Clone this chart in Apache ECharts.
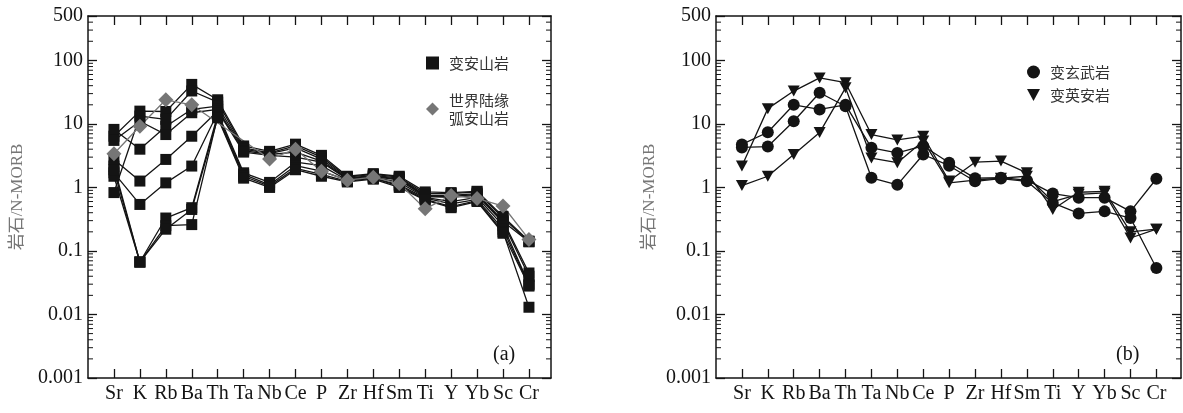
<!DOCTYPE html>
<html>
<head>
<meta charset="utf-8">
<script src="https://cdn.jsdelivr.net/npm/echarts@6/dist/echarts.min.js"></script>
<style>
  html, body { margin: 0; padding: 0; background: #fff; }
  #chart { width: 1183px; height: 413px; }
</style>
</head>
<body>
<div id="chart"></div>
<script>
// 元素顺序 (N-MORB 标准化蛛网图)
const elements = ['Sr', 'K', 'Rb', 'Ba', 'Th', 'Ta', 'Nb', 'Ce', 'P', 'Zr', 'Hf', 'Sm', 'Ti', 'Y', 'Yb', 'Sc', 'Cr'];
const yTickLabels = ['0.001', '0.01', '0.1', '1', '10', '100', '500'];

// (a) 变安山岩
const andesite1 = [6.4, 15.9, 15.7, 41.9, 24, 4.5, 3.7, 4.8, 3.2, 1.5, 1.65, 1.5, 0.85, 0.83, 0.87, 0.35, 0.143];
const andesite2 = [0.83, 13.3, 11.8, 33, 22, 4.2, 3.5, 4.5, 3.0, 1.45, 1.6, 1.45, 0.8, 0.8, 0.85, 0.33, 0.14];
const andesite3 = [8.2, 4.0, 9.1, 17, 19, 4.0, 3.4, 4.2, 2.8, 1.4, 1.55, 1.4, 0.75, 0.75, 0.8, 0.3, 0.045];
const andesite4 = [5.5, 11, 6.8, 15, 17, 3.8, 3.3, 3.6, 2.6, 1.38, 1.5, 1.35, 0.73, 0.72, 0.78, 0.29, 0.14];
const andesite5 = [2.76, 1.26, 2.76, 6.4, 16, 3.6, 3.2, 3.0, 2.5, 1.35, 1.5, 1.3, 0.72, 0.7, 0.75, 0.28, 0.04];
const andesite6 = [1.7, 0.54, 1.18, 2.17, 15, 1.7, 1.2, 2.5, 2.2, 1.3, 1.45, 1.2, 0.7, 0.6, 0.7, 0.25, 0.03];
const andesite7 = [2.17, 0.067, 0.33, 0.48, 14, 1.6, 1.1, 2.2, 1.8, 1.3, 1.4, 1.1, 0.68, 0.55, 0.65, 0.22, 0.029];
const andesite8 = [1.5, 0.067, 0.25, 0.26, 13, 1.5, 1.05, 2.0, 1.6, 1.25, 1.4, 1.05, 0.65, 0.5, 0.62, 0.2, 0.013];
const andesite9 = [1.9, 0.067, 0.22, 0.45, 12.5, 1.4, 1.0, 1.9, 1.5, 1.22, 1.35, 1.0, 0.63, 0.48, 0.6, 0.19, 0.028];
// (a) 世界陆缘弧安山岩
const arcAndesite = [3.4, 9.2, 24, 20, null, null, 2.8, 4.0, 1.8, 1.3, 1.45, 1.15, 0.46, 0.75, 0.67, 0.51, 0.152];

// (b) 变玄武岩
const basalt1 = [4.76, 7.4, 20, 16.9, 20, 4.2, 3.5, 4.5, 2.45, 1.4, 1.42, 1.3, 0.8, 0.69, 0.69, 0.42, 1.37];
const basalt2 = [4.27, 4.4, 11, 31, 19, 1.42, 1.1, 3.3, 2.2, 1.25, 1.38, 1.25, 0.57, 0.39, 0.42, 0.33, 0.054];
// (b) 变英安岩
const dacite1 = [2.17, 17.4, 32.9, 53, 44.6, 6.8, 5.6, 6.4, 1.26, 2.5, 2.6, 1.7, 0.45, 0.84, 0.87, 0.2, 0.22];
const dacite2 = [1.07, 1.5, 3.3, 7.3, 37, 2.9, 2.45, 5.4, 1.18, 1.3, 1.4, 1.5, 0.6, 0.78, 0.82, 0.16, 0.22];

const SERIF = "'Liberation Serif', 'Noto Sans CJK SC', serif";
const INK = '#141414';
const GRAY = '#767676';
const TRI_DOWN = 'path://M0,0L12,0L6,11Z';

// 对数轴上的次刻度 2..9 × 10^k
const minorTicks = [];
for (let k = -3; k <= 2; k++) {
  for (let m = 2; m <= 9; m++) {
    const v = m * Math.pow(10, k);
    if (v < 500) minorTicks.push([0, +v.toPrecision(3)]);
  }
}

const chart = echarts.init(document.getElementById('chart'));

function toPairs(arr) {
  return arr.map((v, i) => [i, v]);
}

function xAxes(gridIndex, max) {
  const base = {
    gridIndex: gridIndex,
    type: 'value',
    min: -1,
    max: max,
    splitLine: { show: false },
    axisLine: { onZero: false, lineStyle: { color: INK, width: 1.5 } },
    axisTick: { inside: true, length: 9, lineStyle: { color: INK, width: 1.3 }, customValues: elements.map((e, i) => i) }
  };
  return [
    Object.assign({}, base, {
      position: 'bottom',
      axisLabel: {
        customValues: elements.map((e, i) => i),
        formatter: v => elements[Math.round(v)] || '',
        color: INK, fontSize: 20, fontFamily: SERIF, margin: 6
      }
    }),
    Object.assign({}, base, { position: 'top', axisLabel: { show: false } })
  ];
}

function yAxes(gridIndex, nameGap) {
  const base = {
    gridIndex: gridIndex,
    type: 'log',
    logBase: 10,
    min: 0.001,
    max: 500,
    splitNumber: 6,
    splitLine: { show: false },
    axisLine: { onZero: false, lineStyle: { color: INK, width: 1.5 } },
    axisTick: { inside: true, length: 9, lineStyle: { color: INK, width: 1.3 } }
  };
  return [
    Object.assign({}, base, {
      position: 'left',
      name: '岩石/N-MORB',
      nameLocation: 'middle',
      nameRotate: 90,
      nameGap: nameGap,
      nameTextStyle: { color: GRAY, fontSize: 17, fontFamily: SERIF },
      axisLabel: {
        color: INK, fontSize: 20, fontFamily: SERIF, margin: 5,
        formatter: function (v) {
          const lg = Math.log10(v);
          const idx = [-3, -2, -1, 0, 1, 2, Math.log10(500)].findIndex(t => Math.abs(t - lg) < 1e-6);
          return idx >= 0 ? yTickLabels[idx] : '';
        }
      }
    }),
    Object.assign({}, base, { position: 'right', axisLabel: { show: false } })
  ];
}

function minorTickSeries(gridIndex) {
  return {
    type: 'custom',
    xAxisIndex: gridIndex * 2,
    yAxisIndex: gridIndex * 2,
    silent: true,
    data: minorTicks,
    renderItem: function (params, api) {
      const cs = params.coordSys;
      const y = api.coord([0, api.value(1)])[1];
      const st = { stroke: INK, lineWidth: 1 };
      return {
        type: 'group',
        children: [
          { type: 'line', shape: { x1: cs.x, y1: y, x2: cs.x + 5, y2: y }, style: st },
          { type: 'line', shape: { x1: cs.x + cs.width, y1: y, x2: cs.x + cs.width - 5, y2: y }, style: st }
        ]
      };
    }
  };
}

function lineSeries(name, arr, gridIndex, symbol, size, color, lineColor) {
  return {
    name: name,
    type: 'line',
    xAxisIndex: gridIndex * 2,
    yAxisIndex: gridIndex * 2,
    data: toPairs(arr),
    symbol: symbol,
    symbolSize: size,
    connectNulls: true,
    showAllSymbol: true,
    animation: false,
    lineStyle: { color: lineColor || color, width: 1.3 },
    itemStyle: { color: color, opacity: 1 }
  };
}

const andesites = [andesite1, andesite2, andesite3, andesite4, andesite5, andesite6, andesite7, andesite8, andesite9];

const series = [minorTickSeries(0), minorTickSeries(1)];
andesites.forEach(a => series.push(lineSeries('变安山岩', a, 0, 'rect', 11, INK)));
series.push(lineSeries('世界陆缘\n弧安山岩', arcAndesite, 0, 'diamond', 15, GRAY, GRAY));
[basalt1, basalt2].forEach(a => series.push(lineSeries('变玄武岩', a, 1, 'circle', 12, INK)));
[dacite1, dacite2].forEach(a => series.push(lineSeries('变英安岩', a, 1, TRI_DOWN, [12, 11], INK)));

const legendText = {
  color: '#333', fontSize: 15, lineHeight: 18,
  fontFamily: "'Noto Sans CJK SC'", padding: [0, 0, 0, 5]
};

const option = {
  animation: false,
  backgroundColor: '#fff',
  grid: [
    { left: 88, top: 16, width: 463, height: 362 },
    { left: 716, top: 16, width: 465, height: 362 }
  ],
  xAxis: [].concat(xAxes(0, 16.85), xAxes(1, 16.95)),
  yAxis: [].concat(yAxes(0, 62), yAxes(1, 58)),
  legend: [
    {
      orient: 'vertical', left: 426, top: 54, itemGap: 19, padding: 0,
      itemWidth: 13, itemHeight: 13,
      textStyle: legendText,
      data: [{ name: '变安山岩', icon: 'rect' }, { name: '世界陆缘\n弧安山岩', icon: 'diamond' }],
      selectedMode: false
    },
    {
      orient: 'vertical', left: 1027, top: 63, itemGap: 5, padding: 0,
      itemWidth: 13, itemHeight: 13,
      textStyle: legendText,
      data: [{ name: '变玄武岩', icon: 'circle' }, { name: '变英安岩', icon: TRI_DOWN }],
      selectedMode: false
    }
  ],
  title: [
    { text: '(a)', left: 488, top: 340, textStyle: { color: INK, fontSize: 20, fontWeight: 'normal', fontFamily: SERIF } },
    { text: '(b)', left: 1111, top: 340, textStyle: { color: INK, fontSize: 20, fontWeight: 'normal', fontFamily: SERIF } }
  ],
  series: series
};

chart.setOption(option);
</script>
</body>
</html>
